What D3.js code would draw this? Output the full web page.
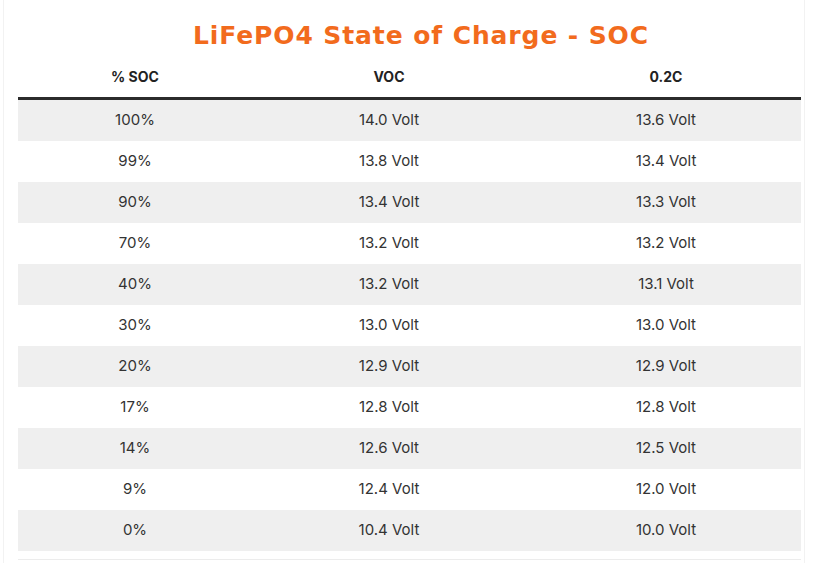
<!DOCTYPE html>
<html><head><meta charset="utf-8">
<script src="https://cdn.jsdelivr.net/npm/d3@7"></script>
<style>html,body{margin:0;padding:0;background:#fff;}</style>
</head><body>
<script>
const title = "LiFePO4 State of Charge - SOC";
const columns = ["% SOC", "VOC", "0.2C"];
const soc = ["100%", "99%", "90%", "70%", "40%", "30%", "20%", "17%", "14%", "9%", "0%"];
const voc = [14.0, 13.8, 13.4, 13.2, 13.2, 13.0, 12.9, 12.8, 12.6, 12.4, 10.4];
const c02 = [13.6, 13.4, 13.3, 13.2, 13.1, 13.0, 12.9, 12.8, 12.5, 12.0, 10.0];

const W = 817, H = 563;
const svg = d3.select("body").append("svg").attr("width", W).attr("height", H);

// faint outer frame
svg.append("line").attr("x1", 3.5).attr("x2", 3.5).attr("y1", 0).attr("y2", H).attr("stroke", "#f2f2f2");
svg.append("line").attr("x1", 804.5).attr("x2", 804.5).attr("y1", 0).attr("y2", H).attr("stroke", "#f2f2f2");

svg.append("text").attr("x", 421).attr("y", 44).attr("text-anchor", "middle")
  .attr("font-family", "Verdana, 'DejaVu Sans', sans-serif").attr("font-weight", "bold")
  .attr("font-size", 25).attr("letter-spacing", 0.9).attr("fill", "#f26b1d").text(title);

const left = 18, right = 801, headTop = 97, rowTop = 100, rowH = 41;
const colX = d3.scaleOrdinal().domain(columns).range([135, 389, 666]);
const y = d3.scaleBand().domain(d3.range(soc.length)).range([rowTop, rowTop + rowH * soc.length]);

const rows = soc.map((s, i) => [s, voc[i].toFixed(1) + " Volt", c02[i].toFixed(1) + " Volt"]);

svg.selectAll("rect.band").data(rows).join("rect").attr("class", "band")
  .attr("x", left).attr("width", right - left)
  .attr("y", (d, i) => y(i)).attr("height", y.bandwidth())
  .attr("fill", (d, i) => i % 2 === 0 ? "#efefef" : "#ffffff");

svg.append("rect").attr("x", left).attr("y", headTop).attr("width", right - left).attr("height", 3).attr("fill", "#2b2b2b");
svg.append("line").attr("x1", left).attr("x2", right).attr("y1", 559.5).attr("y2", 559.5).attr("stroke", "#ececec");

svg.selectAll("text.head").data(columns).join("text").attr("class", "head")
  .attr("x", d => colX(d)).attr("y", 82).attr("text-anchor", "middle")
  .attr("font-family", "Inter, 'Open Sans', sans-serif").attr("font-weight", "bold")
  .attr("font-size", 14).attr("fill", "#222").text(d => d);

const g = svg.selectAll("g.row").data(rows).join("g").attr("class", "row")
  .attr("transform", (d, i) => `translate(0,${y(i) + y.bandwidth() / 2})`);
g.selectAll("text").data(d => d.map((v, j) => ({v, c: columns[j]}))).join("text")
  .attr("x", d => colX(d.c)).attr("dy", "0.3em").attr("text-anchor", "middle")
  .attr("font-family", "Inter, 'Open Sans', sans-serif")
  .attr("font-size", 15).attr("fill", "#333").text(d => d.v);
</script>
</body></html>
